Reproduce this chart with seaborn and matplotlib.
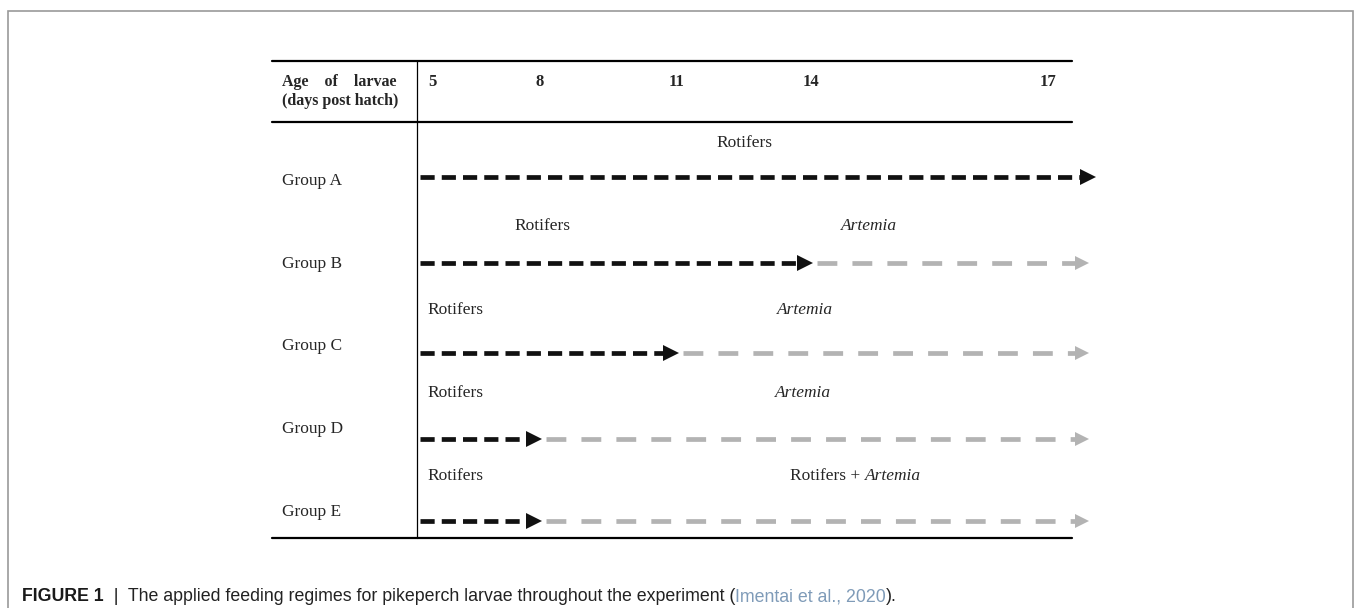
import numpy as np
import pandas as pd
import matplotlib.pyplot as plt
import seaborn as sns

sns.set_theme(style="white")
plt.rcParams["font.family"] = ["Liberation Serif", "DejaVu Serif"]

# ----------------------------------------------------------
# feeding regimes (days post hatch)
days = [5, 8, 11, 14, 17]
groups = ["Group A", "Group B", "Group C", "Group D", "Group E"]
switch_day = [None, 14, 11, 8, 8]          # day rotifers -> artemia
first_food = ["Rotifers", "Rotifers", "Rotifers", "Rotifers", "Rotifers"]
second_food = [None, "Artemia", "Artemia", "Artemia", "Rotifers + Artemia"]

# layout (canvas pixels)
day_x = [432, 540, 677, 811, 1048]
row_y = [177, 263, 353, 439, 521]
label_y = [181, 264, 346, 429, 512]
text_y = [143, 226, 310, 393, 476]
x_start = 420
x_end = 1088

day_pos = dict(zip(days, day_x))

# build segments table
rows = []
for i, g in enumerate(groups):
    sw = switch_day[i]
    if sw is None:
        rows.append((g, i, "rot", x_start, row_y[i]))
        rows.append((g, i, "rot", x_end, row_y[i]))
    else:
        rows.append((g, i, "rot", x_start, row_y[i]))
        rows.append((g, i, "rot", day_pos[sw] - 6, row_y[i]))
        rows.append((g, i, "art", day_pos[sw] + 6, row_y[i]))
        rows.append((g, i, "art", x_end - 6, row_y[i]))
seg = pd.DataFrame(rows, columns=["group", "row", "food", "x", "y"])
seg["unit"] = seg["group"] + seg["food"]

fig = plt.figure(figsize=(13.56, 6.08), dpi=100)
ax = fig.add_axes([0, 0, 1, 1])
ax.set_xlim(0, 1356)
ax.set_ylim(608, 0)
ax.axis("off")

black = "#111111"
grey = "#b3b3b3"

sns.lineplot(data=seg, x="x", y="y", units="unit", hue="food", style="food",
             palette={"rot": black, "art": grey},
             dashes={"rot": (3.0, 1.5), "art": (4.2, 3.2)},
             estimator=None, sort=False, lw=3.4, legend=False, ax=ax)

# arrow heads
for i, g in enumerate(groups):
    sw = switch_day[i]
    if sw is None:
        ax.plot(x_end, row_y[i], marker=">", ms=11, color=black, mew=0)
    else:
        ax.plot(day_pos[sw] - 6, row_y[i], marker=">", ms=11, color=black, mew=0)
        ax.plot(x_end - 6, row_y[i], marker=">", ms=10, color=grey, mew=0)

# table lines
ax.plot([272, 1072], [61, 61], color="black", lw=1.6)
ax.plot([272, 1072], [122, 122], color="black", lw=1.6)
ax.plot([272, 1072], [538, 538], color="black", lw=1.6)
ax.plot([417, 417], [61, 538], color="black", lw=0.9)

# header
ax.text(282, 82, "Age    of    larvae", fontsize=11.5, fontweight="bold",
        va="center", ha="left")
ax.text(282, 101, "(days post hatch)", fontsize=11.5, fontweight="bold",
        va="center", ha="left")
for d, xp in zip(days, day_x):
    ax.text(xp, 82, str(d), fontsize=12, fontweight="bold", ha="center", va="center")

fs = 12.5
for i, g in enumerate(groups):
    ax.text(282, label_y[i], g, fontsize=fs, va="center", ha="left")

# food labels
ax.text(744, text_y[0], first_food[0], fontsize=fs, ha="center", va="center")
ax.text(542, text_y[1], first_food[1], fontsize=fs, ha="center", va="center")
ax.text(869, text_y[1], second_food[1], fontsize=fs, ha="center", va="center", style="italic")
ax.text(427, text_y[2], first_food[2], fontsize=fs, ha="left", va="center")
ax.text(805, text_y[2], second_food[2], fontsize=fs, ha="center", va="center", style="italic")
ax.text(427, text_y[3], first_food[3], fontsize=fs, ha="left", va="center")
ax.text(803, text_y[3], second_food[3], fontsize=fs, ha="center", va="center", style="italic")
ax.text(427, text_y[4], first_food[4], fontsize=fs, ha="left", va="center")
part1, part2 = second_food[4].split("+ ")
t1 = ax.text(790, text_y[4], part1 + "+ ", fontsize=fs, ha="left", va="center")
ax.annotate(part2, xy=(1, 0.5), xycoords=t1, fontsize=fs, ha="left", va="center",
            style="italic")

# outer frame
ax.plot([8, 8, 1353, 1353], [608, 11, 11, 608], color="#9a9a9a", lw=1.2,
        solid_joinstyle="miter")

# caption
cap_fs = 12.8
c1 = ax.text(22, 601, "FIGURE 1", fontsize=cap_fs, fontweight="bold",
             family="Liberation Sans", color="#1a1a1a", va="baseline", ha="left")
c2 = ax.annotate("  |  The applied feeding regimes for pikeperch larvae throughout the experiment (",
                 xy=(1, 0), xycoords=c1, fontsize=cap_fs, family="Liberation Sans",
                 color="#222222", va="bottom", ha="left")
c3 = ax.annotate("Imentai et al., 2020", xy=(1, 0), xycoords=c2, fontsize=cap_fs,
                 family="Liberation Sans", color="#7f9bb8", va="bottom", ha="left")
ax.annotate(").", xy=(1, 0), xycoords=c3, fontsize=cap_fs, family="Liberation Sans",
            color="#222222", va="bottom", ha="left")

fig.savefig("out.png", dpi=100)
